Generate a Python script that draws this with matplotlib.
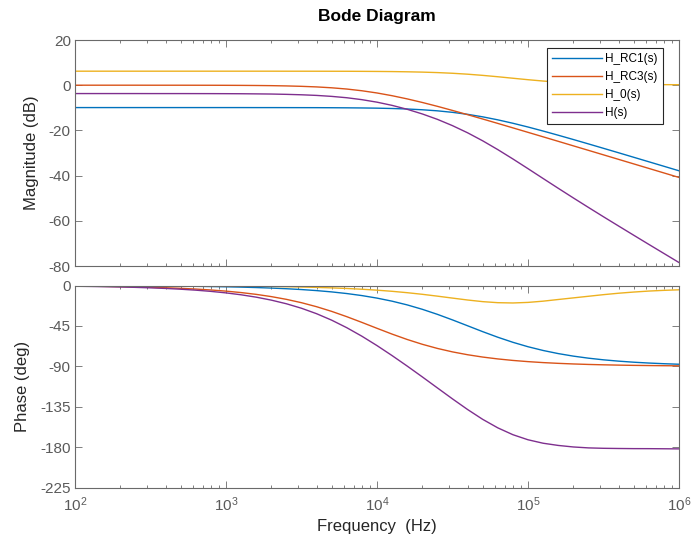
import matplotlib
matplotlib.use("Agg")
import matplotlib.pyplot as plt
from matplotlib.ticker import LogLocator, NullFormatter, FixedLocator, NullLocator

plt.rcParams['font.family'] = ['Liberation Sans', 'DejaVu Sans']
plt.rcParams['axes.unicode_minus'] = False
plt.rcParams['mathtext.default'] = 'regular'

# ---- data (frequency in Hz, 0.1-decade steps) ----
freq_hz = [100, 125.9, 158.5, 199.5, 251.2, 316.2, 398.1, 501.2, 631.0, 794.3,
           1000, 1259, 1585, 1995, 2512, 3162, 3981, 5012, 6310, 7943,
           10000, 12589, 15849, 19953, 25119, 31623, 39811, 50119, 63096, 79433,
           100000, 125893, 158489, 199526, 251189, 316228, 398107, 501187, 630957, 794328,
           1000000]

series_names = ['H_RC1(s)', 'H_RC3(s)', 'H_0(s)', 'H(s)']

mag_rc1 = [-9.90, -9.90, -9.90, -9.90, -9.90, -9.90, -9.90, -9.90, -9.90, -9.90,
           -9.90, -9.90, -9.91, -9.91, -9.92, -9.93, -9.94, -9.97, -10.01, -10.07,
           -10.16, -10.31, -10.53, -10.87, -11.34, -12.01, -12.89, -14.00, -15.33, -16.84,
           -18.50, -20.28, -22.13, -24.03, -25.97, -27.93, -29.90, -31.89, -33.88, -35.87,
           -37.87]
mag_rc3 = [0.00, 0.00, 0.00, 0.00, 0.00, -0.01, -0.01, -0.01, -0.02, -0.03,
           -0.05, -0.08, -0.13, -0.20, -0.32, -0.50, -0.76, -1.15, -1.70, -2.46,
           -3.44, -4.65, -6.06, -7.64, -9.35, -11.17, -13.04, -14.96, -16.91, -18.88,
           -20.86, -22.84, -24.83, -26.83, -28.82, -30.82, -32.82, -34.82, -36.82, -38.82,
           -40.82]
mag_h0 = [6.20, 6.20, 6.20, 6.20, 6.20, 6.20, 6.20, 6.20, 6.20, 6.20,
          6.20, 6.20, 6.20, 6.20, 6.19, 6.19, 6.18, 6.17, 6.16, 6.13,
          6.09, 6.03, 5.93, 5.79, 5.58, 5.28, 4.87, 4.35, 3.74, 3.08,
          2.43, 1.84, 1.36, 0.99, 0.72, 0.53, 0.41, 0.33, 0.27, 0.24,
          0.22]
mag_h = [-3.70, -3.70, -3.70, -3.70, -3.70, -3.71, -3.71, -3.71, -3.72, -3.73,
         -3.75, -3.78, -3.84, -3.91, -4.05, -4.24, -4.52, -4.95, -5.55, -6.40,
         -7.51, -8.93, -10.66, -12.72, -15.11, -17.90, -21.06, -24.61, -28.50, -32.64,
         -36.93, -41.28, -45.60, -49.87, -54.07, -58.22, -62.31, -66.38, -70.43, -74.45,
         -78.47]

ph_rc1 = [-0.14, -0.18, -0.23, -0.29, -0.36, -0.45, -0.57, -0.72, -0.90, -1.14,
          -1.43, -1.80, -2.27, -2.86, -3.59, -4.52, -5.68, -7.14, -8.96, -11.23,
          -14.04, -17.47, -21.61, -26.51, -32.13, -38.33, -44.86, -51.41, -57.63, -63.27,
          -68.20, -72.37, -75.83, -78.66, -80.95, -82.79, -84.26, -85.44, -86.37, -87.12,
          -87.71]
ph_rc3 = [-0.63, -0.79, -1.00, -1.26, -1.58, -1.99, -2.50, -3.15, -3.97, -4.99,
          -6.27, -7.88, -9.88, -12.37, -15.43, -19.16, -23.63, -28.84, -34.74, -41.11,
          -47.69, -54.14, -60.13, -65.48, -70.09, -73.95, -77.12, -79.71, -81.79, -83.46,
          -84.80, -85.87, -86.71, -87.39, -87.93, -88.35, -88.69, -88.96, -89.17, -89.34,
          -89.48]
ph_h0 = [-0.05, -0.07, -0.08, -0.11, -0.13, -0.17, -0.21, -0.27, -0.33, -0.42,
         -0.53, -0.67, -0.84, -1.06, -1.33, -1.67, -2.11, -2.65, -3.32, -4.16,
         -5.20, -6.47, -8.01, -9.81, -11.86, -14.03, -16.16, -17.98, -19.14, -19.46,
         -18.83, -17.45, -15.60, -13.80, -12.00, -10.20, -8.60, -7.30, -6.20, -5.40,
         -4.80]
ph_h = [-0.82, -1.04, -1.31, -1.66, -2.07, -2.61, -3.28, -4.14, -5.20, -6.55,
        -8.23, -10.35, -12.99, -16.29, -20.35, -25.35, -31.42, -38.63, -47.02, -56.50,
        -66.93, -78.08, -89.75, -101.80, -114.08, -126.31, -138.14, -149.10, -158.56, -166.19,
        -171.83, -175.69, -178.14, -179.85, -180.88, -181.34, -181.55, -181.70, -181.74, -181.86,
        -181.99]

mag_ticks = [-80, -60, -40, -20, 0, 20]
phase_ticks = [-225, -180, -135, -90, -45, 0]

colors = ['#0072BD', '#D95319', '#EDB120', '#7E2F8E']
axis_gray = '#6a6a6a'
label_gray = '#5a5a5a'

W, H = 691, 544
fig = plt.figure(figsize=(W / 100, H / 100), dpi=100)
ax1 = fig.add_axes([75 / W, 1 - 266 / H, 604 / W, 226 / H])
ax2 = fig.add_axes([75 / W, 1 - 487.5 / H, 604 / W, 202 / H], sharex=ax1)

mags = [mag_rc1, mag_rc3, mag_h0, mag_h]
phs = [ph_rc1, ph_rc3, ph_h0, ph_h]
for name, m, p, c in zip(series_names, mags, phs, colors):
    ax1.plot(freq_hz, m, color=c, lw=1.0, label=name)
    ax2.plot(freq_hz, p, color=c, lw=1.0)

for ax in (ax1, ax2):
    ax.set_xscale('log')
    ax.set_xlim(1e2, 1e6)
    ax.xaxis.set_major_locator(LogLocator(base=10, numticks=10))
    ax.xaxis.set_minor_locator(LogLocator(base=10, subs=range(2, 10), numticks=50))
    ax.xaxis.set_minor_formatter(NullFormatter())
    ax.yaxis.set_minor_locator(NullLocator())
    ax.tick_params(which='both', direction='in', top=True, right=True,
                   color=axis_gray, labelcolor=label_gray, labelsize=11, width=0.6)
    ax.tick_params(which='major', length=5)
    ax.tick_params(which='minor', length=2.5)
    ax.tick_params(axis='y', pad=3)
    ax.tick_params(axis='x', pad=6)
    for s in ax.spines.values():
        s.set_color(axis_gray)
        s.set_linewidth(0.8)

ax1.set_ylim(-80, 20)
ax1.yaxis.set_major_locator(FixedLocator(mag_ticks))
ax2.set_ylim(-225, 0)
ax2.yaxis.set_major_locator(FixedLocator(phase_ticks))
ax1.tick_params(axis='x', labelbottom=False)

ax1.set_ylabel('Magnitude (dB)', fontsize=12, color='#262626')
ax1.yaxis.set_label_coords((39 - 75) / 604, 0.5)
ax2.set_ylabel('Phase (deg)', fontsize=12, color='#262626')
ax2.yaxis.set_label_coords((30 - 75) / 604, 0.5)
ax2.set_xlabel('Frequency  (Hz)', fontsize=12, color='#262626')
ax2.xaxis.set_label_coords(0.5, (487.5 - 519) / 202)

fig.text((75 + 302) / W, 1 - 17 / H, 'Bode Diagram', ha='center', va='center',
         fontsize=12.5, fontweight='bold', color='black')

leg = ax1.legend(loc='upper right', bbox_to_anchor=(0.974, 0.965), fontsize=8.5,
                 frameon=True, fancybox=False, edgecolor='#262626', framealpha=1,
                 handlelength=4.2, labelspacing=0.5, borderpad=0.45,
                 handletextpad=0.3, borderaxespad=0)
leg.get_frame().set_linewidth(0.8)

fig.savefig('out.png', dpi=100)
